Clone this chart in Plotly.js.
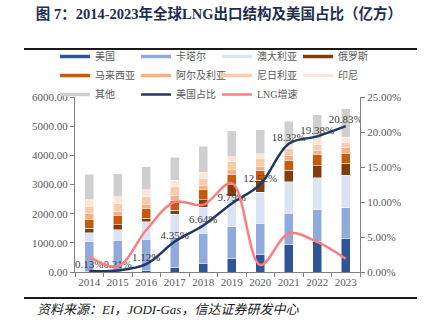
<!DOCTYPE html>
<html><head><meta charset="utf-8">
<script src="https://cdn.plot.ly/plotly-3.0.1.min.js"></script>
<style>html,body{margin:0;padding:0;background:#fff}#chart{width:425px;height:322px}</style>
</head><body><div id="chart"></div>
<script>
const years = ['2014','2015','2016','2017','2018','2019','2020','2021','2022','2023'];
const usa       = [4, 7, 40, 170, 285, 475, 614, 940, 1045, 1165];
const qatar     = [1040, 1075, 1080, 1030, 1050, 1070, 1061, 1070, 1095, 1043];
const australia = [310, 370, 595, 778, 890, 1047, 1062, 1080, 1085, 1107];
const russia    = [140, 160, 135, 137, 260, 394, 404, 400, 410, 412];
const malaysia  = [320, 335, 322, 343, 340, 351, 327, 340, 400, 332];
const algeria   = [190, 135, 140, 171, 140, 169, 150, 150, 137, 226];
const nigeria   = [250, 270, 285, 309, 250, 288, 284, 240, 206, 172];
const indonesia = [225, 235, 230, 206, 210, 165, 160, 150, 195, 171];
const other     = [865, 785, 775, 798, 885, 891, 817, 796, 823, 974];
const usShare   = [0.13, 0.21, 1.12, 4.35, 6.64, 9.79, 12.52, 18.32, 19.38, 20.83];
const lngGrowth = [2.2, 0.8, 6.0, 10.0, 9.6, 12.7, 1.0, 5.5, 4.3, 1.9];

const barSeries = [
  ['美国', usa, '#2F5597'],
  ['卡塔尔', qatar, '#8FAADC'],
  ['澳大利亚', australia, '#DAE3F3'],
  ['俄罗斯', russia, '#843C0C'],
  ['马来西亚', malaysia, '#C55A11'],
  ['阿尔及利亚', algeria, '#F4B183'],
  ['尼日利亚', nigeria, '#F8CBAD'],
  ['印尼', indonesia, '#FBE5D6'],
  ['其他', other, '#D0CECE']
];

const serif = 'Liberation Serif, "Noto Sans CJK SC", serif';
const traces = [];
barSeries.forEach(([name, vals, color]) => {
  traces.push({type:'bar', x: years, y: vals, name: name, legendgroup: name, showlegend: false,
    marker:{color: color, line:{color:'#ffffff', width:0.5}}, hoverinfo:'x+y+name'});
});
barSeries.forEach(([name, vals, color]) => {
  traces.push({type:'scatter', mode:'lines', x:[null], y:[null], name: name, legendgroup: name,
    line:{color: color, width:3.5}, hoverinfo:'skip'});
});
traces.push({type:'scatter', mode:'lines+text', x: years, y: usShare, yaxis:'y2', name:'美国占比',
  line:{color:'#1F3864', width:2.5, shape:'spline'},
  text: usShare.map(v => v.toFixed(2) + '%'), textposition:'top center',
  textfont:{family: serif, size:11, color:'#404040'}});
traces.push({type:'scatter', mode:'lines', x: years, y: lngGrowth, yaxis:'y2', name:'LNG增速',
  line:{color:'#FF7C80', width:2.5, shape:'spline'}});

const px = v => (v - 75) / 285;
const py = v => (272 - v) / 175;

const layout = {
  width:425, height:322,
  margin:{l:75, r:65, t:97, b:50},
  paper_bgcolor:'#fff', plot_bgcolor:'#fff',
  font:{family: serif, size:11, color:'#595959'},
  barmode:'stack', bargap:0.67,
  showlegend:true,
  title:{text:'图\u00a07：2014-2023年全球LNG出口结构及美国占比（亿方）', x:0.515, xref:'container', xanchor:'center',
    y:1 - 14/322, yref:'container', yanchor:'middle',
    font:{family:'Liberation Serif, "Noto Sans CJK SC", serif', size:14.5, color:'#1F2D4F', weight:'bold'}},
  legend:{orientation:'h', x: px(55), xanchor:'left', y: py(42), yanchor:'top', tracegroupgap:0,
    entrywidth:36, entrywidthmode:'pixels', font:{size:10, color:'#595959'}, bgcolor:'rgba(0,0,0,0)'},
  xaxis:{type:'category', range:[-0.5, 9.5], showline:true, linecolor:'#808080', linewidth:1.2,
    ticks:'outside', tickson:'boundaries', ticklen:4, tickcolor:'#808080', showgrid:false, tickangle:0,
    tickfont:{family: serif, size:11, color:'#595959'}},
  yaxis:{range:[0,6000], dtick:1000, tickformat:'.2f', showline:true, linecolor:'#808080', linewidth:1.2,
    ticks:'outside', ticklen:4, tickcolor:'#808080', showgrid:false, zeroline:false,
    tickfont:{family: serif, size:11, color:'#595959'}},
  yaxis2:{overlaying:'y', side:'right', range:[0,25], dtick:5, tickformat:'.2f', ticksuffix:'%',
    showline:true, linecolor:'#808080', linewidth:1.2, ticks:'outside', ticklen:4, tickcolor:'#808080',
    showgrid:false, zeroline:false, tickfont:{family: serif, size:11, color:'#595959'}},
  shapes:[
    {type:'line', xref:'paper', yref:'paper', x0:px(24), x1:px(417), y0:py(49), y1:py(49), line:{color:'#1a1a1a', width:2}},
    {type:'line', xref:'paper', yref:'paper', x0:px(24), x1:px(417), y0:py(298), y1:py(298), line:{color:'#1a1a1a', width:2}}
  ],
  annotations:[
    {text:'<i>资料来源：EI，JODI-Gas，信达证券研发中心</i>', xref:'paper', yref:'paper', x:px(35), y:py(309),
     xanchor:'left', yanchor:'middle', showarrow:false, font:{family: serif, size:13, color:'#1a1a1a'}}
  ]
};
Plotly.newPlot('chart', traces, layout, {displayModeBar:false});
</script></body></html>
